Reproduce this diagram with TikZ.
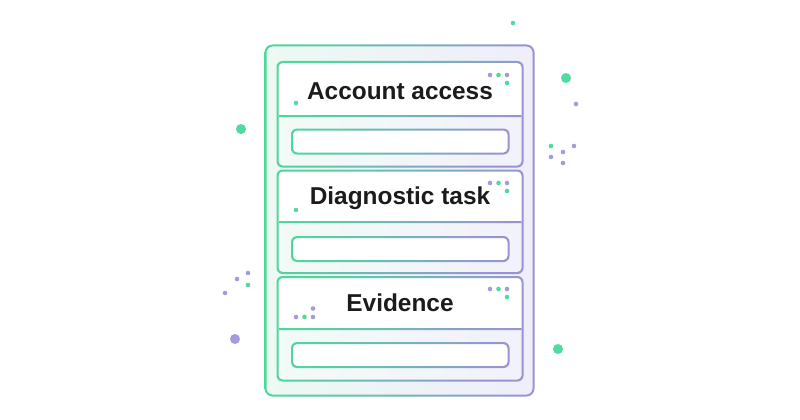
\documentclass[tikz,border=0pt]{standalone}
\usepackage{fontspec}
\setmainfont{Liberation Sans}
\definecolor{gA}{HTML}{4CD89B}
\definecolor{gB}{HTML}{9A92D6}
\definecolor{dG}{HTML}{4FDB9E}
\definecolor{dP}{HTML}{A39CDB}
\definecolor{fA}{HTML}{EDF9F3}
\definecolor{fB}{HTML}{EFEEFA}
\definecolor{txt}{HTML}{1B1B1B}
% gradient ring: #1 shading options, then x1,y1,x2,y2,r,w, #8 extra path
\newcommand\gring[8]{%
 \pgfmathsetmacro\gXa{#2-#7/2}\pgfmathsetmacro\gYa{#3-#7/2}%
 \pgfmathsetmacro\gXb{#4+#7/2}\pgfmathsetmacro\gYb{#5+#7/2}%
 \pgfmathsetmacro\gXc{#2+#7/2}\pgfmathsetmacro\gYc{#3+#7/2}%
 \pgfmathsetmacro\gXd{#4-#7/2}\pgfmathsetmacro\gYd{#5-#7/2}%
 \pgfmathsetmacro\gRo{#6+#7/2}\pgfmathsetmacro\gRi{#6-#7/2}%
 \shade[#1, even odd rule]
   [rounded corners=\gRo pt] (\gXa,\gYa) rectangle (\gXb,\gYb)
   [rounded corners=\gRi pt] (\gXc,\gYc) rectangle (\gXd,\gYd)
   [sharp corners] #8;%
}
\tikzset{
 horiz/.style={left color=gA, right color=gB},
 diag/.style={top color=gA, bottom color=gB, shading angle=62},
 dotS/.style={circle,inner sep=0pt,minimum size=4.6pt},
 dotL/.style={circle,inner sep=0pt,minimum size=10pt},
 label/.style={font=\bfseries\fontsize{24.4}{28}\selectfont, text=txt, anchor=base, inner sep=0pt}
}
\newcommand\card[4]{% top, divider, bottom, fieldtop
 \fill[white,rounded corners=5pt] (277.5,#1) rectangle (522.5,#3);
 \begin{scope}
  \clip[rounded corners=5pt] (277.5,#1) rectangle (522.5,#3);
  \shade[left color=fA!70!white, right color=fB!80!white] (277.5,#2) rectangle (522.5,#3);
 \end{scope}
 \pgfmathsetmacro\gFb{#4+24}%
 \fill[white,rounded corners=5pt] (292,#4) rectangle (508.5,\gFb);
 \gring{horiz}{292}{#4}{508.5}{\gFb}{5}{2}{}
 \pgfmathsetmacro\gDa{#2-1}\pgfmathsetmacro\gDb{#2+1}%
 \gring{diag}{277.5}{#1}{522.5}{#3}{5}{2}{(278,\gDa) rectangle (522,\gDb)}
}
\begin{document}
\begin{tikzpicture}[x=1pt,y=-1pt]
\useasboundingbox (0,0) rectangle (800,420);
% outer frame
\shade[left color=fA, right color=fB, rounded corners=7pt] (265.5,45.5) rectangle (533.5,395.5);
\gring{horiz}{265.5}{45.5}{533.5}{395.5}{7}{2}{}
% cards
\card{62}{116}{166.5}{129.5}
\card{170.5}{222}{273}{237}
\card{277}{329}{380.5}{343}
% labels
\node[label] (t1) at (400,99) {Account access};
\node[label] (t2) at (400,204.5) {Diagnostic task};
\node[label] (t3) at (400,311.5) {Evidence};
% dots in cards
\foreach \y/\n in {75/a,183/b,289/c}{
 \node[dotS,fill=dP] (p1\n) at (490,\y) {};
 \node[dotS,fill=dG] (p2\n) at (498.5,\y) {};
 \node[dotS,fill=dP] (p3\n) at (507,\y) {};
 \node[dotS,fill=dG] (p4\n) at (507,\y+8) {};
}
\node[dotS,fill=dG] (q1) at (296,103) {};
\node[dotS,fill=dG] (q2) at (296,210) {};
\node[dotS,fill=dP] (q3) at (296,317) {};
\node[dotS,fill=dG] (q4) at (304.5,317) {};
\node[dotS,fill=dP] (q5) at (313,317) {};
\node[dotS,fill=dP] (q6) at (313,308.5) {};
% outside dots
\node[dotS,fill=dG] (o1) at (513,23) {};
\node[dotL,fill=dG] (o2) at (566,78) {};
\node[dotS,fill=dP] (o3) at (576,104) {};
\node[dotL,fill=dG] (o4) at (241,129) {};
\node[dotS,fill=dG] (o5) at (551,146) {};
\node[dotS,fill=dP] (o6) at (563,152) {};
\node[dotS,fill=dP] (o7) at (574,146) {};
\node[dotS,fill=dP] (o8) at (551,157) {};
\node[dotS,fill=dP] (o9) at (563,163) {};
\node[dotS,fill=dP] (o10) at (248,273) {};
\node[dotS,fill=dP] (o11) at (237,279) {};
\node[dotS,fill=dG] (o12) at (248,285) {};
\node[dotS,fill=dP] (o13) at (225,293) {};
\node[dotL,fill=dP] (o14) at (235,339) {};
\node[dotL,fill=dG] (o15) at (558,349) {};
\end{tikzpicture}
\end{document}
